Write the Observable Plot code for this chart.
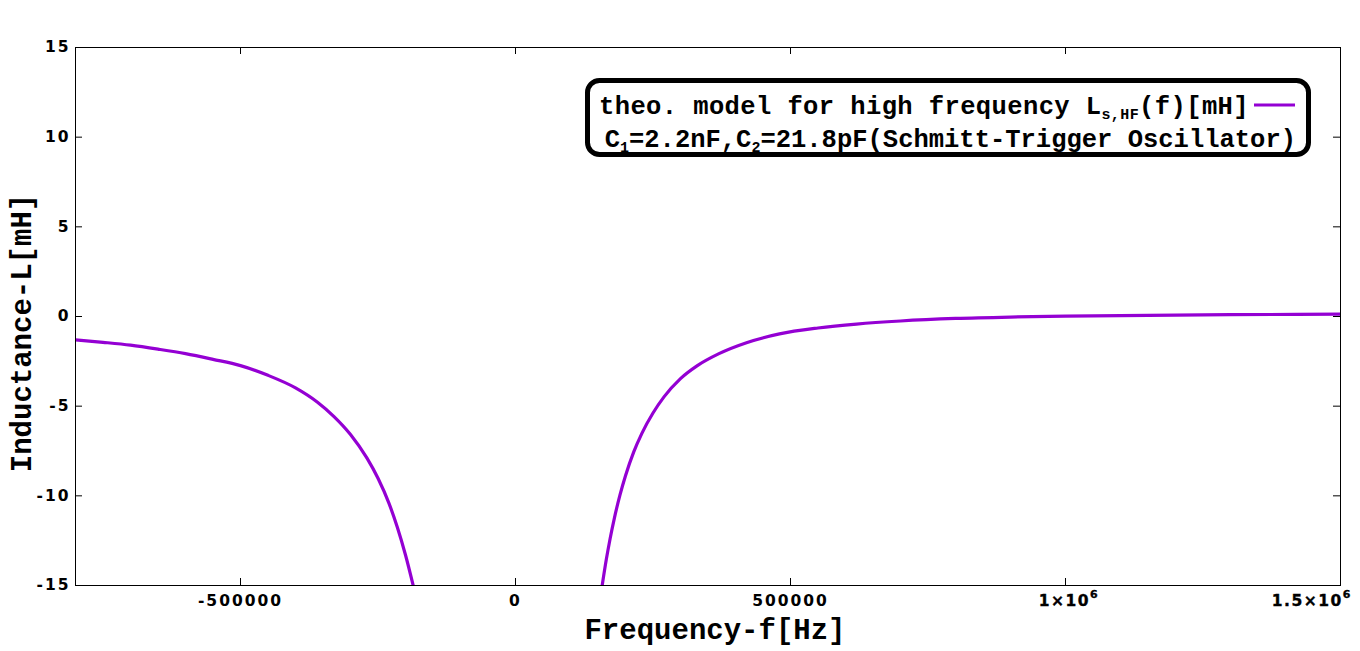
<!DOCTYPE html>
<html>
<head>
<meta charset="utf-8">
<script src="https://cdn.jsdelivr.net/npm/d3@7"></script>
<script src="https://cdn.jsdelivr.net/npm/@observablehq/plot@0.6"></script>
<style>
  html, body { margin: 0; padding: 0; background: #fff; }
  #chart { width: 1360px; height: 651px; }
</style>
</head>
<body>
<div id="chart"></div>
<script>
// ---- data ----
const freqNeg = [-800000, -750000, -700000, -650000, -600000, -550000, -500000, -450000, -400000, -360000, -330000, -300000, -270000, -250000, -230000, -215000, -200000, -186000];
const indNeg  = [-1.30, -1.44, -1.60, -1.82, -2.07, -2.39, -2.74, -3.28, -3.98, -4.78, -5.58, -6.58, -7.90, -9.02, -10.42, -11.74, -13.30, -15.0];
const freqPos = [157600, 165000, 172000, 180000, 190000, 200000, 215000, 230000, 250000, 270000, 300000, 330000, 370000, 420000, 480000, 550000, 620000, 700000, 800000, 900000, 1000000, 1150000, 1300000, 1500000];
const indPos  = [-15.0, -13.57, -12.39, -11.21, -9.95, -8.88, -7.55, -6.50, -5.38, -4.48, -3.46, -2.75, -2.07, -1.46, -0.97, -0.64, -0.42, -0.25, -0.11, -0.03, 0.02, 0.06, 0.10, 0.13];

const xTicks = [-500000, 0, 500000, 1000000, 1500000];
const xTickLabels = ["-500000", "0", "500000", "1×10", "1.5×10"];
const xTickExponents = ["", "", "", "6", "6"];
const yTicks = [-15, -10, -5, 0, 5, 10, 15];
const yTickLabels = ["-15", "-10", "-5", "0", "5", "10", "15"];

const xTitle = "Frequency-f[Hz]";
const yTitle = "Inductance-L[mH]";
const seriesColor = "#9400d3";

// ---- build ----
const negRows = freqNeg.map((f, i) => ({f, L: indNeg[i]}));
const posRows = freqPos.map((f, i) => ({f, L: indPos[i]}));
const plainXTicks = xTicks.filter((v, i) => !xTickExponents[i]);

const W = 1360, H = 651;
const mT = 47, mR = 20, mB = 66, mL = 75;
const fw = W - mL - mR, fh = H - mT - mB;
const tickLen = 7;
const tickFamily = "'DejaVu Sans', sans-serif";
const tickFont = {fontSize: 15.5, fontWeight: 700, fontFamily: tickFamily, stroke: "#000", strokeWidth: 0.35};

const svg = Plot.plot({
  width: W, height: H,
  marginTop: mT, marginRight: mR, marginBottom: mB, marginLeft: mL,
  style: "font-family:'DejaVu Sans',sans-serif;font-weight:700;font-size:15.5px;background:#fff;color:#000;letter-spacing:2px;overflow:visible;",
  x: {domain: [-800000, 1500000]},
  y: {domain: [-15, 15]},
  marks: [
    Plot.axisX({ticks: plainXTicks, tickSize: 0, tickPadding: 9, label: null, ...tickFont,
      tickFormat: v => xTickLabels[xTicks.indexOf(v)]}),
    Plot.axisY({ticks: yTicks, tickSize: 0, tickPadding: 5, label: null, ...tickFont,
      tickFormat: v => yTickLabels[yTicks.indexOf(v)]}),
    Plot.tickX(xTicks, {x: d => d, stroke: "#000", insetTop: fh - tickLen}),
    Plot.tickX(xTicks, {x: d => d, stroke: "#000", insetBottom: fh - tickLen}),
    Plot.tickY(yTicks, {y: d => d, stroke: "#000", insetRight: fw - tickLen}),
    Plot.tickY(yTicks, {y: d => d, stroke: "#000", insetLeft: fw - tickLen}),
    Plot.line(negRows, {x: "f", y: "L", stroke: seriesColor, strokeWidth: 3.2, curve: "monotone-x", clip: true}),
    Plot.line(posRows, {x: "f", y: "L", stroke: seriesColor, strokeWidth: 3.2, curve: "monotone-x", clip: true}),
    Plot.frame({stroke: "#000", strokeWidth: 1})
  ]
});

document.getElementById("chart").appendChild(svg);

const s = d3.select(svg);
const xs = svg.scale("x");
const mono = "'Liberation Mono', 'DejaVu Sans Mono', monospace";

// tick labels with exponent (positioned through the plot's x scale)
xTicks.forEach((v, i) => {
  if (!xTickExponents[i]) return;
  const px = xs.apply(v);
  const isLast = i === xTicks.length - 1;
  const t = s.append("text")
    .attr("x", isLast ? W - 8 : px + 4)
    .attr("y", H - mB + 20.5)
    .attr("text-anchor", isLast ? "end" : "middle")
    .attr("stroke", "#000").attr("stroke-width", 0.35)
    .style("font-family", tickFamily).style("font-weight", "700").style("font-size", "15.5px").style("letter-spacing", "1.5px");
  t.append("tspan").text(xTickLabels[i]);
  t.append("tspan").attr("dy", -8).style("font-size", "11px").text(xTickExponents[i]);
});

// axis titles
s.append("text")
  .attr("x", 715).attr("y", 639)
  .attr("text-anchor", "middle")
  .style("font-family", mono).style("font-weight", "bold").style("font-size", "29px").style("letter-spacing", "0px")
  .text(xTitle);
s.append("text")
  .attr("transform", "translate(31,333) rotate(-90)")
  .attr("text-anchor", "middle")
  .style("font-family", mono).style("font-weight", "bold").style("font-size", "29px").style("letter-spacing", "0px")
  .text(yTitle);

// legend
const lg = s.append("g").style("letter-spacing", "0px");
lg.append("rect")
  .attr("x", 587.5).attr("y", 80.5).attr("width", 721).attr("height", 74)
  .attr("rx", 12).attr("ry", 12)
  .attr("fill", "#fff").attr("stroke", "#000").attr("stroke-width", 5);
const t1 = lg.append("text")
  .attr("x", 1249).attr("y", 114).attr("text-anchor", "end")
  .style("font-family", mono).style("font-weight", "bold").style("font-size", "25.5px").style("letter-spacing", "0.4px");
t1.append("tspan").text("theo. model for high frequency L");
t1.append("tspan").attr("dy", 5).style("font-size", "15px").text("s,HF");
t1.append("tspan").attr("dy", -5).text("(f)[mH]");
lg.append("line")
  .attr("x1", 1254).attr("x2", 1295).attr("y1", 105).attr("y2", 105)
  .attr("stroke", seriesColor).attr("stroke-width", 3.2);
const t2 = lg.append("text")
  .attr("x", 1296).attr("y", 147).attr("text-anchor", "end")
  .style("font-family", mono).style("font-weight", "bold").style("font-size", "25.5px");
t2.append("tspan").text("C");
t2.append("tspan").attr("dy", 5).style("font-size", "15px").text("1");
t2.append("tspan").attr("dy", -5).text("=2.2nF,C");
t2.append("tspan").attr("dy", 5).style("font-size", "15px").text("2");
t2.append("tspan").attr("dy", -5).text("=21.8pF(Schmitt-Trigger Oscillator)");
</script>
</body>
</html>
